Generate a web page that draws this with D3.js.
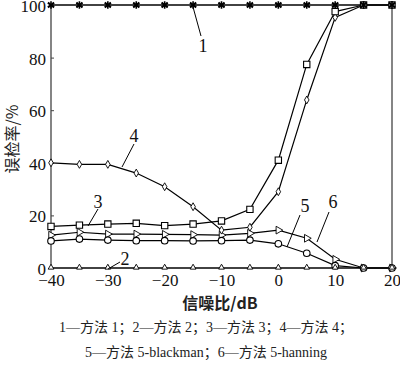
<!DOCTYPE html>
<html><head><meta charset="utf-8">
<script src="https://cdn.jsdelivr.net/npm/d3@7"></script>
<style>body{margin:0;background:#fff}svg{display:block}</style>
</head><body>
<svg id="c" width="400" height="366"></svg>
<script>
const snr = [-40,-35,-30,-25,-20,-15,-10,-5,0,5,10,15,20];
const s1 = [100,100,100,100,100,100,100,100,100,100,100,100,100];
const s2 = [0,0,0,0,0,0,0,0,0,0,0,0,0];
const s3 = [15.8,16.3,16.7,17,16.1,16.7,17.9,22.3,41,77.4,97.5,100,100];
const s4 = [40,39.4,39.4,36.1,30.9,23.3,14.4,15.5,29,63.9,95.3,100,100];
const s5 = [10.3,11,10.6,10.4,10.4,10.3,10.4,10.6,9.2,5.6,0.9,0,0];
const s6 = [12.5,13.6,12.9,12.9,12.8,12.7,12.5,13.2,14.4,11.3,3.3,0,0];
const xTicks = [-40,-30,-20,-10,0,10,20];
const yTicks = [0,20,40,60,80,100];
const legendLines = ["1—方法 1；2—方法 2；3—方法 3；4—方法 4；","5—方法 5-blackman；6—方法 5-hanning"];
const labels = [
  {t:"1", lx:203, ly:52, x1:201, y1:36, x2:193, y2:7},
  {t:"4", lx:134, ly:142, x1:134, y1:144, x2:122, y2:167},
  {t:"3", lx:98, ly:208, x1:98, y1:209, x2:88, y2:226},
  {t:"2", lx:125, ly:265, x1:120, y1:262, x2:108, y2:269},
  {t:"5", lx:305, ly:212, x1:300, y1:215, x2:287, y2:247},
  {t:"6", lx:333, ly:208, x1:329, y1:212, x2:317, y2:242}
];

const svg = d3.select("#c");
const x = d3.scaleLinear().domain([-40,20]).range([51,392]);
const y = d3.scaleLinear().domain([0,100]).range([268,5]);
const serif = "'Liberation Serif','Times New Roman',serif";

// frame
svg.append("rect").attr("x",x(-40)).attr("y",y(100)).attr("width",x(20)-x(-40)).attr("height",y(0)-y(100))
  .attr("fill","none").attr("stroke","#444").attr("stroke-width",1.3);

const yAxis = d3.axisLeft(y).tickValues(yTicks).tickSize(-3).tickPadding(5);
const gy = svg.append("g").attr("transform",`translate(${x(-40)},0)`).call(yAxis);
gy.select(".domain").remove();
gy.selectAll("line").attr("stroke","#444");
gy.selectAll("text").attr("font-family",serif).attr("font-size",17).attr("fill","#111").attr("dy","0.38em");

const xAxis = d3.axisBottom(x).tickValues(xTicks).tickSize(-3).tickPadding(6)
  .tickFormat(d => d < 0 ? "\u2212" + Math.abs(d) : d);
const gx = svg.append("g").attr("transform",`translate(0,${y(0)})`).call(xAxis);
gx.select(".domain").remove();
gx.selectAll("line").attr("stroke","#444");
gx.selectAll("text").attr("font-family",serif).attr("font-size",17).attr("fill","#111").attr("dy","0.68em");

const line = d3.line().x((d,i)=>x(snr[i])).y(d=>y(d));
const series = [
  {v:s1, m:"star"}, {v:s2, m:"tri"}, {v:s3, m:"square"},
  {v:s4, m:"diamond"}, {v:s5, m:"circle"}, {v:s6, m:"rtri"}
];
series.forEach(s => {
  svg.append("path").attr("d", line(s.v)).attr("fill","none").attr("stroke","#000").attr("stroke-width",1.2);
});
function marker(g, m, cx, cy){
  if (m==="star") {
    g.append("path").attr("d", d3.symbol(d3.symbolAsterisk, 40)()).attr("transform",`translate(${cx},${cy})`)
      .attr("stroke","#000").attr("stroke-width",1.6).attr("fill","none");
    g.append("path").attr("d", d3.symbol(d3.symbolTimes, 22)()).attr("transform",`translate(${cx},${cy})`)
      .attr("stroke","#000").attr("stroke-width",1.4).attr("fill","none");
  } else if (m==="tri") {
    g.append("path").attr("d", d3.symbol(d3.symbolTriangle, 14)()).attr("transform",`translate(${cx},${cy-0.5})`)
      .attr("stroke","#000").attr("stroke-width",0.9).attr("fill","#fff");
  } else if (m==="square") {
    g.append("path").attr("d", d3.symbol(d3.symbolSquare, 40)()).attr("transform",`translate(${cx},${cy})`)
      .attr("stroke","#000").attr("stroke-width",1.1).attr("fill","#fff");
  } else if (m==="diamond") {
    g.append("path").attr("d", d3.symbol(d3.symbolDiamond, 18)()).attr("transform",`translate(${cx},${cy})`)
      .attr("stroke","#000").attr("stroke-width",0.9).attr("fill","#fff");
  } else if (m==="circle") {
    g.append("path").attr("d", d3.symbol(d3.symbolCircle, 34)()).attr("transform",`translate(${cx},${cy})`)
      .attr("stroke","#000").attr("stroke-width",1.1).attr("fill","#fff");
  } else if (m==="rtri") {
    g.append("path").attr("d", d3.symbol(d3.symbolTriangle, 26)()).attr("transform",`translate(${cx},${cy}) rotate(90)`)
      .attr("stroke","#000").attr("stroke-width",0.9).attr("fill","#fff");
  }
}
const mg = svg.append("g");
[5,4,3,1,2,0].forEach(k => {
  const s = series[k];
  s.v.forEach((v,i) => marker(mg, s.m, x(snr[i]), y(v)));
});

// labels
labels.forEach(l => {
  svg.append("line").attr("x1",l.x1).attr("y1",l.y1).attr("x2",l.x2).attr("y2",l.y2).attr("stroke","#000").attr("stroke-width",1);
  svg.append("text").attr("x",l.lx).attr("y",l.ly).attr("text-anchor","middle")
    .attr("font-family",serif).attr("font-size",18).attr("fill","#111").text(l.t);
});

// axis titles
svg.append("text").attr("transform","translate(18,139) rotate(-90)").attr("text-anchor","middle")
  .attr("font-family","'Noto Sans CJK SC',sans-serif").attr("font-size",16).attr("fill","#222").text("误检率/%");
svg.append("text").attr("x",220).attr("y",309).attr("text-anchor","middle")
  .attr("font-family","'Noto Sans CJK SC',sans-serif").attr("font-weight","bold").attr("font-size",16).attr("fill","#222").text("信噪比/dB");

svg.selectAll(".leg").data(legendLines).enter().append("text")
  .attr("x",206).attr("y",(d,i)=>332+i*25).attr("text-anchor","middle")
  .attr("font-family",serif+",'Noto Sans CJK SC'").attr("font-size",14).attr("fill","#222").text(d=>d);
</script>
</body></html>
